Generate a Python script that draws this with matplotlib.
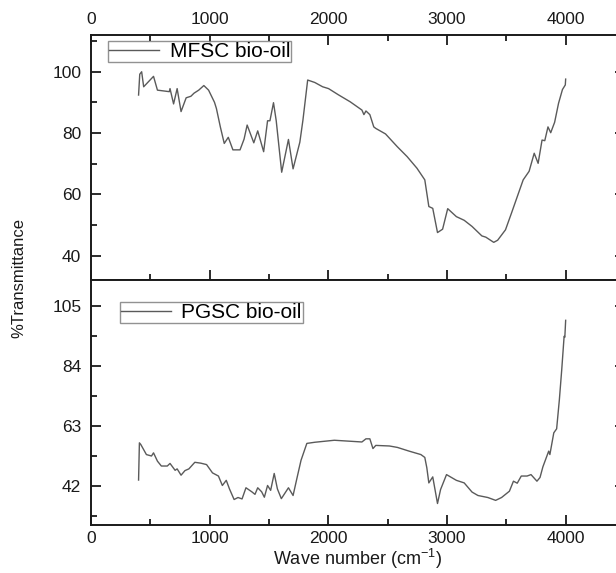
import numpy as np
import matplotlib
matplotlib.use("Agg")
import matplotlib.pyplot as plt
from matplotlib.ticker import MultipleLocator

plt.rcParams['font.family'] = ['Liberation Sans', 'DejaVu Sans']

# MFSC bio-oil spectrum (wave number, %T)
mfsc_x = [401, 411, 427, 444, 527, 560, 660, 666, 696, 726, 759, 802, 842, 868,
          908, 951, 991, 1041, 1057, 1090, 1123, 1157, 1196, 1256, 1290, 1316,
          1372, 1405, 1455, 1488, 1508, 1538, 1561, 1607, 1664, 1703, 1760,
          1786, 1826, 1886, 1952, 2002, 2084, 2184, 2283, 2300, 2317, 2350,
          2383, 2400, 2482, 2582, 2664, 2747, 2813, 2847, 2880, 2920, 2963,
          3006, 3079, 3145, 3211, 3294, 3327, 3394, 3427, 3493, 3543, 3602,
          3642, 3692, 3735, 3768, 3801, 3824, 3851, 3874, 3907, 3940, 3973,
          3997, 4000]
mfsc_y = [92.4, 99.2, 100.0, 95.1, 98.5, 94.0, 93.5, 94.5, 89.5, 94.5, 87.0,
          91.5, 92.0, 93.0, 94.0, 95.5, 94.0, 90.0, 88.0, 82.0, 76.6, 78.6,
          74.5, 74.5, 78.0, 82.6, 76.8, 80.7, 73.9, 84.0, 84.0, 89.9, 84.0,
          67.2, 77.9, 68.3, 77.0, 84.2, 97.3, 96.5, 95.1, 94.5, 92.5, 90.2,
          87.5, 86.0, 87.2, 86.0, 82.0, 81.5, 79.7, 75.5, 72.3, 68.5, 64.7,
          56.0, 55.4, 47.5, 48.6, 55.3, 52.7, 51.5, 49.5, 46.4, 46.0, 44.3,
          45.0, 48.4, 53.8, 60.3, 64.7, 67.5, 73.4, 70.1, 77.7, 77.5, 82.0,
          80.1, 83.5, 89.7, 94.2, 95.7, 97.6]

# PGSC bio-oil spectrum
pgsc_x = [401, 408, 420, 467, 510, 527, 560, 593, 643, 666, 709, 726, 759,
          792, 825, 875, 925, 974, 1024, 1074, 1107, 1140, 1167, 1206, 1239,
          1273, 1306, 1355, 1382, 1405, 1438, 1461, 1488, 1514, 1544, 1571,
          1604, 1664, 1703, 1737, 1770, 1819, 1886, 2051, 2283, 2317, 2350,
          2376, 2400, 2515, 2582, 2681, 2780, 2813, 2830, 2847, 2880, 2920,
          2946, 2996, 3079, 3145, 3211, 3261, 3344, 3410, 3460, 3526, 3560,
          3592, 3626, 3675, 3708, 3758, 3784, 3808, 3857, 3867, 3900, 3924,
          3947, 3967, 3987, 3993, 4000]
pgsc_y = [44.1, 57.1, 56.5, 53.0, 52.5, 53.6, 50.7, 49.0, 49.0, 49.9, 47.5,
          48.0, 45.8, 47.4, 48.0, 50.3, 50.0, 49.5, 46.6, 45.5, 42.2, 44.0,
          41.0, 37.3, 38.0, 37.5, 41.4, 40.0, 39.1, 41.4, 40.0, 38.1, 42.2,
          40.5, 46.4, 41.0, 37.6, 41.4, 38.7, 45.0, 51.0, 56.9, 57.3, 58.0,
          57.4, 58.5, 58.5, 55.1, 56.2, 56.0, 55.5, 54.2, 53.0, 52.0, 48.4,
          43.1, 45.2, 35.9, 40.8, 46.0, 44.0, 43.1, 39.9, 38.7, 38.0, 37.0,
          38.0, 40.2, 43.7, 43.0, 45.5, 45.5, 46.0, 43.7, 45.0, 48.7, 54.2,
          53.0, 60.6, 62.0, 72.2, 82.7, 94.3, 94.0, 99.9]

line_color = '#5a5a5a'

fig = plt.figure(figsize=(6.16, 5.73), dpi=100)
# right spine sits just beyond the picture edge, like the original
ax1 = fig.add_axes([0.1477, 0.5113, 0.8669, 0.4276])
ax2 = fig.add_axes([0.1477, 0.0838, 0.8669, 0.4276])

ax1.plot(mfsc_x, mfsc_y, color=line_color, lw=1.0, label='MFSC bio-oil')
ax2.plot(pgsc_x, pgsc_y, color=line_color, lw=1.0, label='PGSC bio-oil')

for ax in (ax1, ax2):
    ax.set_xlim(0, 4500)
    ax.xaxis.set_major_locator(MultipleLocator(1000))
    ax.xaxis.set_minor_locator(MultipleLocator(500))
    for s in ax.spines.values():
        s.set_linewidth(1.4)
        s.set_color('#1a1a1a')
    ax.tick_params(which='both', direction='in', width=1.3, colors='#1a1a1a',
                   labelsize=12.5, right=True)
    ax.tick_params(which='major', length=7)
    ax.tick_params(which='minor', length=4)

ax1.set_ylim(32, 112)
ax1.yaxis.set_major_locator(MultipleLocator(20))
ax1.yaxis.set_minor_locator(MultipleLocator(10))
ax1.tick_params(which='both', top=True, bottom=True,
                labeltop=True, labelbottom=False)
ax1.tick_params(axis='x', pad=6)
ax1.tick_params(axis='y', pad=7)

ax2.set_ylim(28.4, 114)
ax2.set_yticks([42, 63, 84, 105])
ax2.yaxis.set_minor_locator(MultipleLocator(10.5))
ax2.tick_params(which='both', top=False, bottom=True)
ax2.tick_params(axis='x', pad=4)
ax2.tick_params(axis='y', pad=7)

leg1 = ax1.legend(loc='upper left', bbox_to_anchor=(0.032, 0.975),
                  fontsize=15, frameon=True, fancybox=False,
                  handlelength=2.4, borderpad=0.05, borderaxespad=0,
                  handletextpad=0.5)
leg2 = ax2.legend(loc='upper left', bbox_to_anchor=(0.054, 0.91),
                  fontsize=15, frameon=True, fancybox=False,
                  handlelength=2.4, borderpad=0.05, borderaxespad=0,
                  handletextpad=0.5)
for leg in (leg1, leg2):
    leg.get_frame().set_edgecolor('#777777')
    leg.get_frame().set_linewidth(1.0)

fig.text(0.03, 0.515, '%Transmittance', rotation=90, ha='center',
         va='center', fontsize=12, color='#1a1a1a')
fig.text(0.581, 0.003, r'Wave number (cm$^{\mathregular{-1}}$)', ha='center',
         va='bottom', fontsize=13, color='#1a1a1a')

fig.savefig('out.png', dpi=100)
